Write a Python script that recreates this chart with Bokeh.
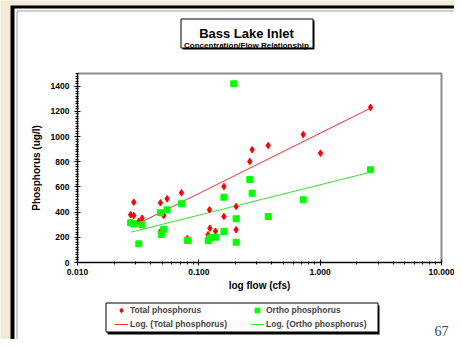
from bokeh.plotting import figure
from bokeh.layouts import column
from bokeh.models import Label, Legend, LegendItem, FixedTicker, PrintfTickFormatter
from bokeh.embed import file_html
from bokeh.resources import INLINE

# ---- data ----
total_flow = [0.0274, 0.0291, 0.0291, 0.0320, 0.0341, 0.0483, 0.0483, 0.0514, 0.0548,
              0.0719, 0.0802, 0.119, 0.1224, 0.1234, 0.1372, 0.161, 0.161, 0.203, 0.203,
              0.263, 0.275, 0.373, 0.725, 1.007, 2.60]
total_p = [379, 479, 373, 326, 352, 474, 246, 373, 506,
           553, 190, 220, 418, 272, 249, 603, 365, 445, 260,
           802, 895, 929, 1016, 868, 1231]

ortho_flow = [0.0274, 0.0291, 0.0320, 0.0339, 0.0483, 0.049, 0.0514, 0.0548, 0.0719,
              0.0805, 0.1195, 0.125, 0.137, 0.161, 0.161, 0.194, 0.203, 0.203,
              0.263, 0.275, 0.373, 0.725, 2.60]
ortho_p = [315, 307, 148, 299, 395, 222, 262, 418, 466,
           175, 175, 196, 201, 518, 246, 1419, 347, 161,
           659, 550, 365, 498, 736]

# logarithmic trend lines (end points)
trend_flow = [0.0276, 2.60]
trend_total = [280, 1225]
trend_ortho = [241, 717]

x_ticks = [0.01, 0.1, 1.0, 10.0]
y_ticks = [0, 200, 400, 600, 800, 1000, 1200, 1400]

title_text = "Bass Lake Inlet"
subtitle_text = "Concentration/Flow Relationship"
x_label = "log flow (cfs)"
y_label = "Phosphorus (ug/l)"
series_names = ["Total phosphorus", "Ortho phosphorus",
                "Log. (Total phosphorus)", "Log. (Ortho phosphorus)"]
page_number = "67"

BEIGE = "#f3ebd7"
FONT = "Liberation Sans"
W, H = 454, 339
RED, GREEN = "red", "#00ff00"
RED_LINE, GREEN_LINE = "#ff3030", "#33e633"

# ---------------- background layer: slide frame, title box, legend ----------------
q = figure(width=W, height=H, x_range=(0, W), y_range=(H, 0), title=None,
           x_axis_location=None, y_axis_location=None, min_border=0,
           output_backend="svg", toolbar_location=None)
q.frame_align = False
q.grid.visible = False
q.outline_line_color = None
q.border_fill_color = BEIGE
q.background_fill_color = BEIGE

q.quad(left=[10], right=[W], top=[5], bottom=[H], fill_color="black", line_color=None)
q.quad(left=[14], right=[W], top=[8], bottom=[H], fill_color="white", line_color=None)
q.line([W, 16.5, 16.5], [10.5, 10.5, H], line_color="#a0a0a0", line_width=1)
# title box with shadow
q.quad(left=[182], right=[314], top=[20], bottom=[49], fill_color="black", line_color=None)
q.quad(left=[180.5], right=[312.5], top=[18.5], bottom=[47.5], fill_color="white",
       line_color="black", line_width=1)
# legend box with shadow
q.quad(left=[107], right=[379], top=[305], bottom=[334], fill_color="black", line_color=None)
q.quad(left=[105.5], right=[377.5], top=[302.5], bottom=[331.5], fill_color="white",
       line_color="black", line_width=1)

q.add_layout(Label(x=246, y=33, text=title_text, text_align="center",
                   text_baseline="alphabetic", text_font=FONT, text_font_style="bold",
                   text_font_size="13px", text_color="black"))
q.add_layout(Label(x=246, y=44.5, text=subtitle_text, text_align="center",
                   text_baseline="alphabetic", text_font=FONT, text_font_style="bold",
                   text_font_size="8px", text_color="black"))
q.add_layout(Label(x=434, y=330, text=page_number, text_align="left",
                   text_baseline="alphabetic", text_font="Liberation Serif",
                   text_font_size="14px", text_color="#3b4766"))

# legend keys: same series styles, not drawn in this layer (visible=False)
k_t = q.scatter(total_flow, total_p, marker="diamond", size=6.5,
                fill_color=RED, line_color=RED, visible=False)
k_o = q.scatter(ortho_flow, ortho_p, marker="square", size=6,
                fill_color=GREEN, line_color=GREEN, visible=False)
k_lt = q.line(trend_flow, trend_total, line_color=RED_LINE, line_width=1, visible=False)
k_lo = q.line(trend_flow, trend_ortho, line_color=GREEN_LINE, line_width=1, visible=False)
legend = Legend(items=[LegendItem(label=series_names[0], renderers=[k_t]),
                       LegendItem(label=series_names[1], renderers=[k_o]),
                       LegendItem(label=series_names[2], renderers=[k_lt]),
                       LegendItem(label=series_names[3], renderers=[k_lo])],
                location=(114, 9), orientation="horizontal", ncols=2,
                border_line_alpha=0, background_fill_alpha=0,
                padding=0, margin=0, spacing=2, click_policy="none",
                glyph_width=14, glyph_height=12, label_height=12, label_width=118,
                label_standoff=2,
                label_text_font=FONT, label_text_font_style="bold",
                label_text_font_size="8.5px")
q.add_layout(legend, "center")

# ---------------- chart layer ----------------
p = figure(width=W, height=H, x_axis_type="log", x_range=(0.01, 10), y_range=(0, 1500),
           output_backend="svg", toolbar_location=None,
           min_border_left=77, min_border_right=13, min_border_top=73, min_border_bottom=77)
p.frame_align = False
p.border_fill_alpha = 0
p.background_fill_alpha = 0
p.outline_line_color = "#8c8c8c"
p.outline_line_width = 2
p.grid.visible = False
p.styles = {"position": "absolute", "top": "0px", "left": "0px"}

p.xaxis.ticker = FixedTicker(ticks=x_ticks,
                             minor_ticks=[m * t for t in x_ticks[:-1] for m in range(2, 10)])
p.xaxis.formatter = PrintfTickFormatter(format="%.3f")
p.yaxis.ticker = FixedTicker(ticks=y_ticks, minor_ticks=list(range(0, 1501, 20)))
p.xaxis.axis_label = x_label
p.yaxis.axis_label = y_label
for ax in (p.xaxis[0], p.yaxis[0]):
    ax.major_label_text_font = FONT
    ax.major_label_text_font_style = "bold"
    ax.major_label_text_font_size = "8.5px"
    ax.major_label_text_color = "black"
    ax.axis_label_text_font = FONT
    ax.axis_label_text_font_style = "bold"
    ax.axis_label_text_font_size = "10px"
    ax.axis_label_text_color = "black"
    ax.axis_line_color = "black"
    ax.major_tick_line_color = "black"
    ax.minor_tick_line_color = "black"
    ax.major_tick_in = 3
    ax.major_tick_out = 3
    ax.minor_tick_in = 1
    ax.minor_tick_out = 2
p.yaxis.major_label_standoff = 5
p.yaxis.axis_label_standoff = 6
p.xaxis.major_label_standoff = 3
p.xaxis.axis_label_standoff = 2

p.line(trend_flow, trend_total, line_color=RED_LINE, line_width=1)
p.line(trend_flow, trend_ortho, line_color=GREEN_LINE, line_width=1)
p.scatter(total_flow, total_p, marker="diamond", size=6.5, fill_color=RED, line_color=RED)
p.scatter(ortho_flow, ortho_p, marker="square", size=6, fill_color=GREEN, line_color=GREEN)

layout = column(q, p)
open("out.html", "w").write(file_html(layout, INLINE))
